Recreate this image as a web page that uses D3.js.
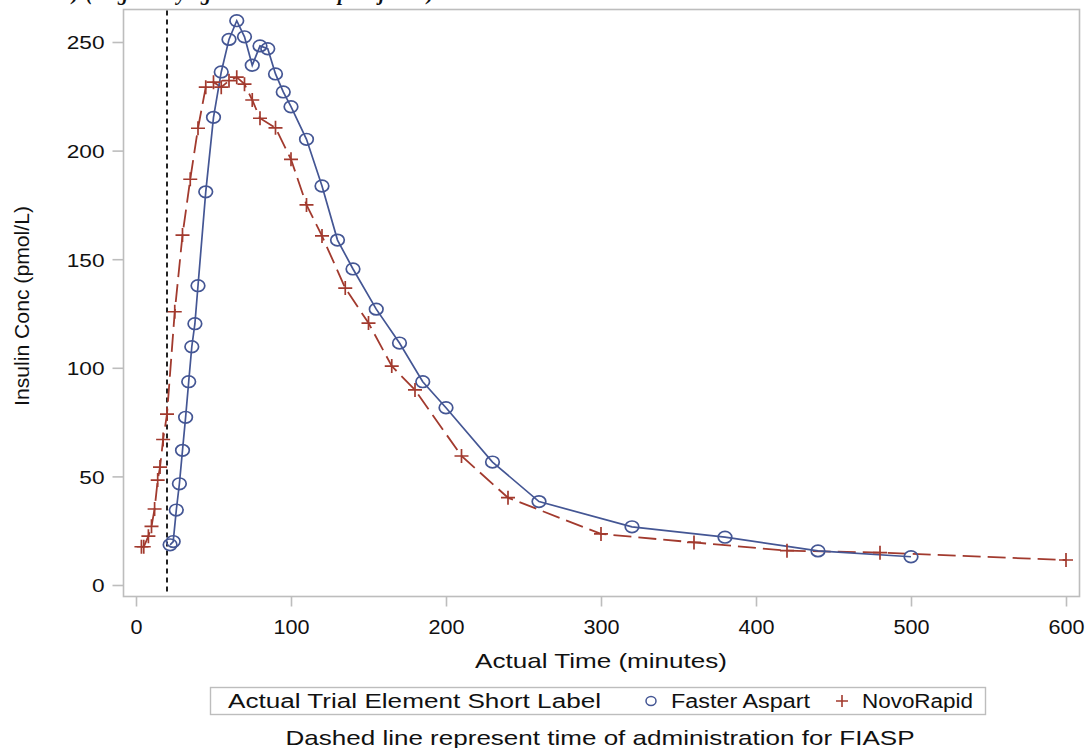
<!DOCTYPE html>
<html><head><meta charset="utf-8">
<script src="https://cdn.jsdelivr.net/npm/d3@7"></script>
<style>
html,body{margin:0;padding:0;background:#fff;}
svg{display:block;}
text{font-family:"Liberation Sans",Arial,sans-serif;fill:#111;}
</style></head>
<body>
<svg id="chart" width="1087" height="748"></svg>
<script>
// ---- data ----
const asparTime = [22,24,26,28,30,32,34,36,38,40,45,50,55,60,65,70,75,80,85,90,95,100,110,120,130,140,155,170,185,200,230,260,320,380,440,500];
const asparConc = [18.5,20,34.5,46.6,62,77.2,93.6,109.7,120.3,137.8,181,215.3,236.2,251.2,259.8,252.4,239.3,248.2,246.9,235.3,227,220.2,205.2,183.7,158.8,145.5,127,111.4,93.6,81.6,56.6,38.4,26.8,22,15.7,13];
const novoTime = [3.5,5,8,10,12,14,15.5,17.5,20,25,30,35,40,45,50,55,60,65,70,75,80,90,100,110,120,135,150,165,180,210,240,300,360,420,480,600];
const novoConc = [17.6,17.6,22.5,27,35,48.3,54.3,67,78.7,125.8,161.1,186.8,210.3,229.2,231.5,229.2,232.2,233.8,230.6,223.3,214.9,210.5,196,175,160.7,136.7,120.6,100.8,89.8,59.4,40.2,23.5,19.6,15.8,14.9,11.5];
const xTicks = [0,100,200,300,400,500,600];
const yTicks = [0,50,100,150,200,250];
const adminTime = 20;
const seriesNames = ["Faster Aspart","NovoRapid"];
const legendTitle = "Actual Trial Element Short Label";
const xTitle = "Actual Time (minutes)";
const yTitle = "Insulin Conc (pmol/L)";
const footnote = "Dashed line represent time of administration for FIASP";

const blue = "#445694", red = "#A23A2E", frameCol = "#bdbdbd";
const svg = d3.select("#chart");

const x = d3.scaleLinear().domain([0,600]).range([136,1066]);
const y = d3.scaleLinear().domain([0,250]).range([585,42]);
const frame = {l:123.5, t:9.5, r:1079.5, b:596.5};

// cut-off title at top (only descenders visible, as in the reference)
const tt = svg.append("text").attr("y",0).style("font-family","'Liberation Serif','Times New Roman',serif")
  .style("font-weight","bold").style("font-style","italic").style("font-size","20px");
[[72,")"],[86,"("],[118,"g"],[177,"y"],[201,"g"],[338,"p"],[379,"j"],[427,")"]].forEach(([px,ch])=>{
  tt.append("tspan").attr("x",px).text(ch);
});

// frame
svg.append("rect").attr("x",frame.l).attr("y",frame.t).attr("width",frame.r-frame.l).attr("height",frame.b-frame.t)
  .attr("fill","none").attr("stroke",frameCol).attr("stroke-width",1.6);

// y axis
const yAxis = d3.axisLeft(y).tickValues(yTicks).tickSize(11).tickPadding(8);
const gy = svg.append("g").attr("transform",`translate(${frame.l},0)`).call(yAxis);
gy.select(".domain").remove();
gy.selectAll(".tick line").attr("stroke",frameCol).attr("stroke-width",1.6);
gy.selectAll(".tick text").style("font-size","19px").attr("fill","#111")
  .attr("textLength",d=>String(d).length*12.6).attr("lengthAdjust","spacingAndGlyphs").attr("dy","0.36em");

// x axis
const xAxis = d3.axisBottom(x).tickValues(xTicks).tickSize(10).tickPadding(13);
const gx = svg.append("g").attr("transform",`translate(0,${frame.b})`).call(xAxis);
gx.select(".domain").remove();
gx.selectAll(".tick line").attr("stroke",frameCol).attr("stroke-width",1.6);
gx.selectAll(".tick text").style("font-size","20px").attr("fill","#111")
  .attr("textLength",d=>String(d).length*12).attr("lengthAdjust","spacingAndGlyphs");

// titles
svg.append("text").attr("x",601).attr("y",668).attr("text-anchor","middle").style("font-size","21px")
  .attr("textLength",252).attr("lengthAdjust","spacingAndGlyphs").text(xTitle);
svg.append("text").attr("transform","translate(29,306) rotate(-90)").attr("text-anchor","middle").style("font-size","21px")
  .attr("textLength",200).attr("lengthAdjust","spacingAndGlyphs").text(yTitle);

// admin dashed line
svg.append("line").attr("x1",x(adminTime)).attr("x2",x(adminTime)).attr("y1",frame.t+1).attr("y2",frame.b-1)
  .attr("stroke","#222").attr("stroke-width",2).attr("stroke-dasharray","5,4");

// lines
const aspar = asparTime.map((t,i)=>({t,c:asparConc[i]}));
const novo = novoTime.map((t,i)=>({t,c:novoConc[i]}));
const line = d3.line().x(d=>x(d.t)).y(d=>y(d.c));
svg.append("path").datum(novo).attr("d",line).attr("fill","none").attr("stroke",red).attr("stroke-width",1.8)
  .attr("stroke-dasharray","18,7");
svg.append("path").datum(aspar).attr("d",line).attr("fill","none").attr("stroke",blue).attr("stroke-width",1.7);

// markers
svg.append("g").selectAll("ellipse").data(aspar).join("ellipse")
  .attr("cx",d=>x(d.t)).attr("cy",d=>y(d.c)).attr("rx",6.8).attr("ry",5.8)
  .attr("fill","none").attr("stroke",blue).attr("stroke-width",1.7);
svg.append("g").selectAll("path").data(novo).join("path")
  .attr("d",d=>`M${x(d.t)-7},${y(d.c)}h14M${x(d.t)},${y(d.c)-7}v14`)
  .attr("fill","none").attr("stroke",red).attr("stroke-width",1.7);

// legend
svg.append("rect").attr("x",210.5).attr("y",687.5).attr("width",775).attr("height",27)
  .attr("fill","#fff").attr("stroke",frameCol).attr("stroke-width",1.4);
svg.append("text").attr("x",228).attr("y",708).style("font-size","20px")
  .attr("textLength",373).attr("lengthAdjust","spacingAndGlyphs").text(legendTitle);
svg.append("ellipse").attr("cx",651).attr("cy",701).attr("rx",5).attr("ry",4.5)
  .attr("fill","none").attr("stroke",blue).attr("stroke-width",1.5);
svg.append("text").attr("x",671).attr("y",708).style("font-size","20px")
  .attr("textLength",139).attr("lengthAdjust","spacingAndGlyphs").text(seriesNames[0]);
svg.append("path").attr("d","M836,701h12M842,695v12").attr("stroke",red).attr("stroke-width",1.6);
svg.append("text").attr("x",862).attr("y",708).style("font-size","20px")
  .attr("textLength",111).attr("lengthAdjust","spacingAndGlyphs").text(seriesNames[1]);

// footnote
svg.append("text").attr("x",600).attr("y",745).attr("text-anchor","middle").style("font-size","21px")
  .attr("textLength",629).attr("lengthAdjust","spacingAndGlyphs").text(footnote);
</script>
</body></html>
